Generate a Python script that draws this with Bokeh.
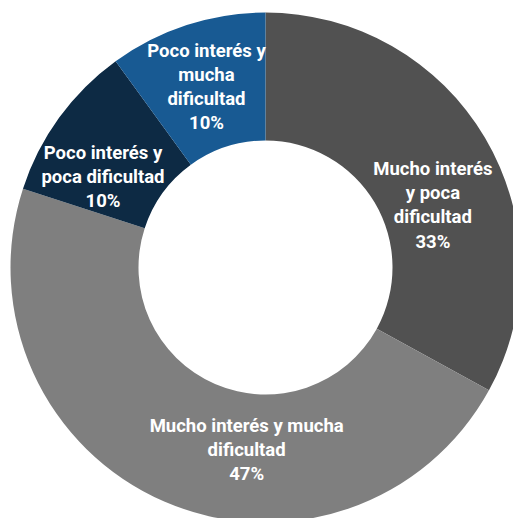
import math
from bokeh.plotting import figure
from bokeh.models import ColumnDataSource
from bokeh.core.properties import value
from bokeh.embed import file_html
from bokeh.resources import INLINE

categories = ["Mucho interés\ny poca\ndificultad", "Mucho interés y mucha\ndificultad",
              "Poco interés y\npoca dificultad", "Poco interés y\nmucha\ndificultad"]
values = [33, 47, 10, 10]
colors = ["#515151", "#7f7f7f", "#0d2a44", "#185a93"]

# label nudges in pixels (style only)
dx = [3, 57, -8, 0]
dy = [-35, -7, -22, -1]

W, H = 513, 518
cx, cy = 265, 267  # donut centre in figure pixels (from left, from top)
R_OUT, R_IN = 255, 127

total = sum(values)
starts, ends, mids = [], [], []
a = math.pi / 2
for v in values:
    span = 2 * math.pi * v / total
    starts.append(a)
    ends.append(a - span)
    mids.append(a - span / 2)
    a -= span

r_mid = (R_OUT + R_IN) / 2
lx = [r_mid * math.cos(m) + d for m, d in zip(mids, dx)]
ly = [r_mid * math.sin(m) + d for m, d in zip(mids, dy)]
labels = [f"{c}\n{v}%" for c, v in zip(categories, values)]

src = ColumnDataSource(dict(start=starts, end=ends, color=colors, lx=lx, ly=ly, label=labels))

p = figure(width=W, height=H, output_backend="svg", toolbar_location=None,
           x_range=(-cx, W - cx), y_range=(-(H - cy), cy), min_border=0,
           background_fill_color="white", border_fill_color="white")
p.axis.visible = False
p.grid.visible = False
p.outline_line_color = None

p.annular_wedge(x=0, y=0, inner_radius=R_IN, outer_radius=R_OUT,
                start_angle="start", end_angle="end", direction="clock",
                fill_color="color", line_color="white", line_width=0, source=src)

p.text(x="lx", y="ly", text="label", source=src, text_color="white",
       text_font=value("Roboto"), text_font_style="bold", text_font_size="18.5px",
       text_align="center", text_baseline="middle", text_line_height=1.1)

open("out.html", "w").write(file_html(p, INLINE))
